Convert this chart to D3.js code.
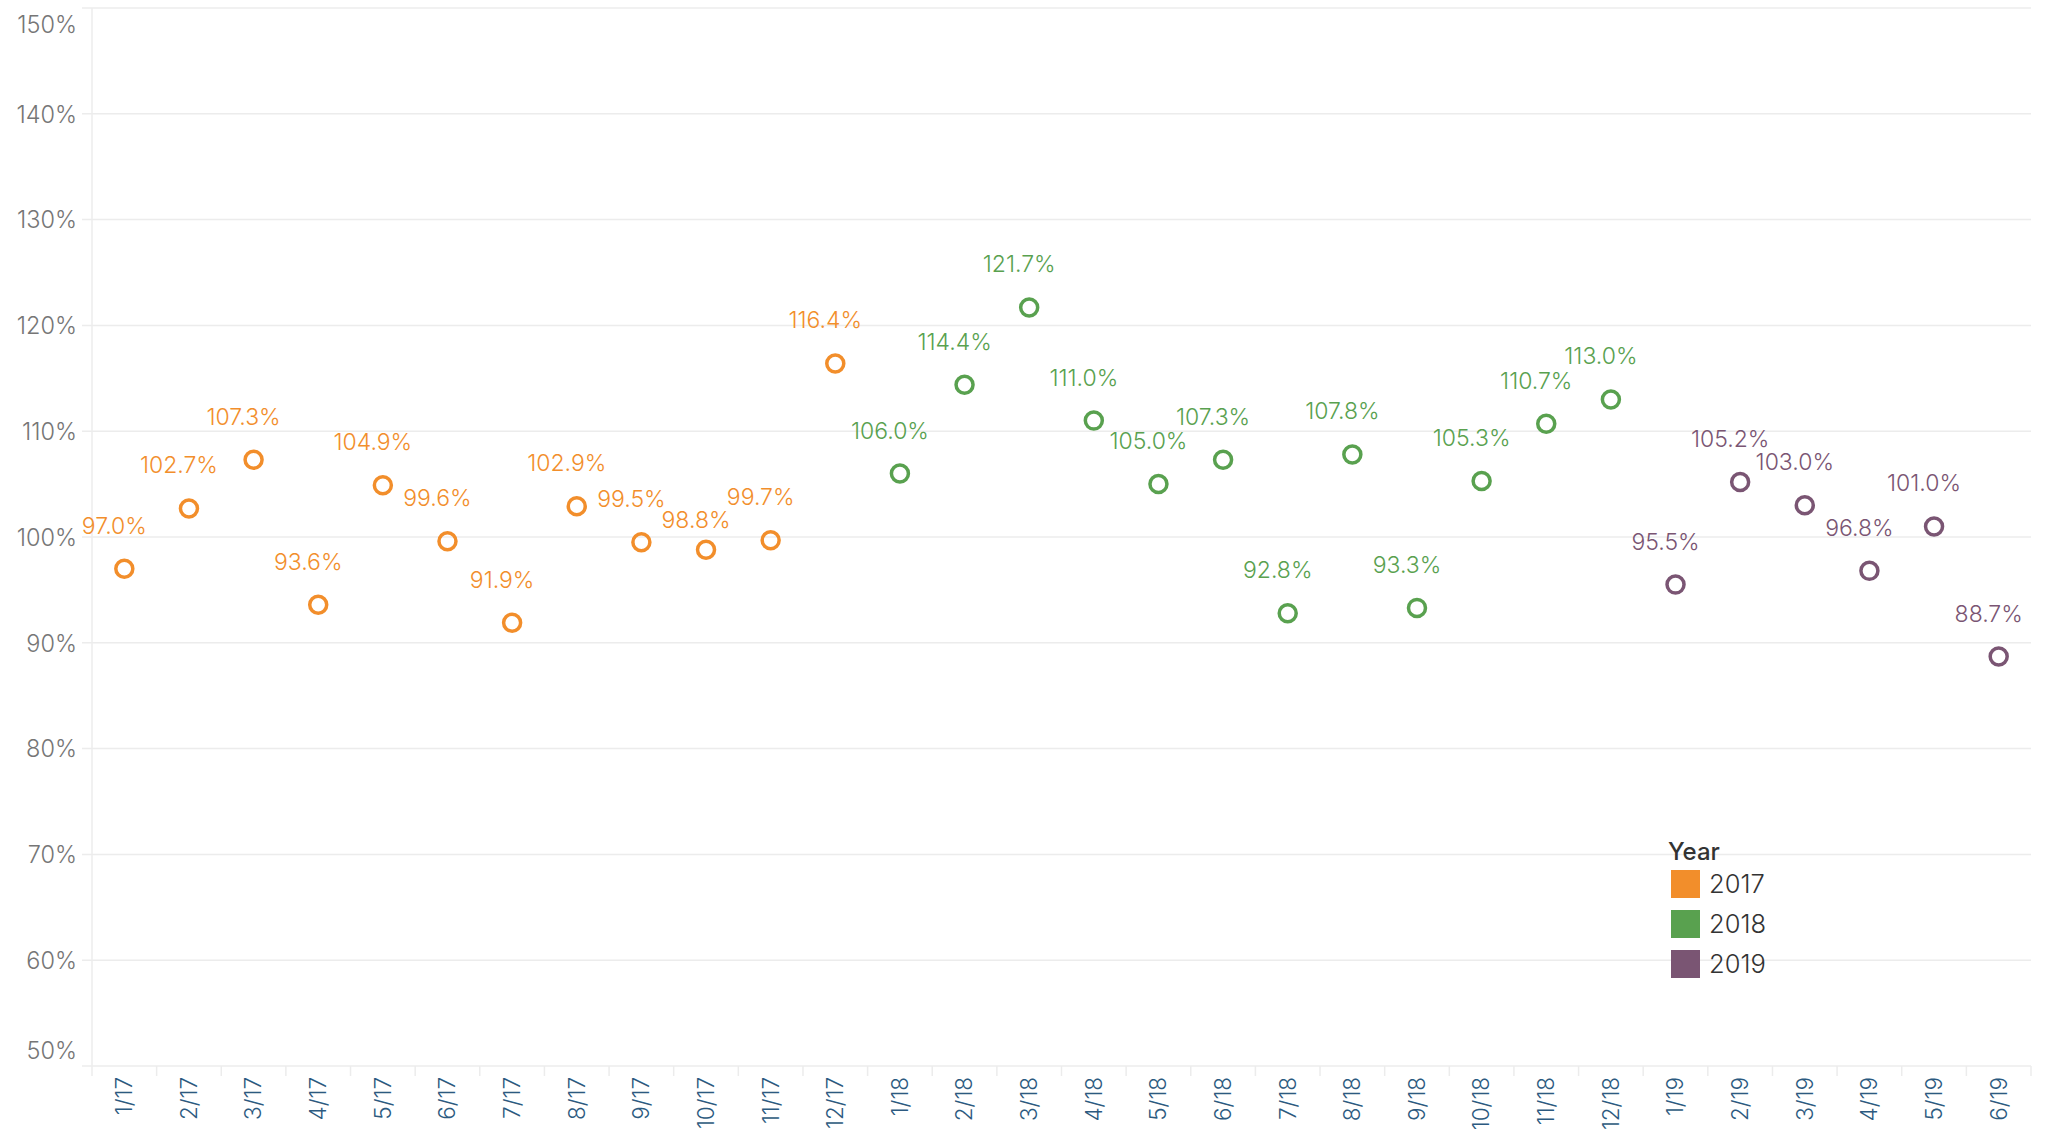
<!DOCTYPE html>
<html>
<head>
<meta charset="utf-8">
<script src="https://cdn.jsdelivr.net/npm/d3@7"></script>
<style>
  body { margin: 0; background: #fff; }
  text { font-family: Inter, 'Open Sans', sans-serif; }
</style>
</head>
<body>
<div id="chart"></div>
<script>
const months = ['1/17','2/17','3/17','4/17','5/17','6/17','7/17','8/17','9/17','10/17','11/17','12/17',
  '1/18','2/18','3/18','4/18','5/18','6/18','7/18','8/18','9/18','10/18','11/18','12/18',
  '1/19','2/19','3/19','4/19','5/19','6/19'];
const years = ['2017', '2018', '2019'];
const values2017 = [97.0, 102.7, 107.3, 93.6, 104.9, 99.6, 91.9, 102.9, 99.5, 98.8, 99.7, 116.4];
const values2018 = [106.0, 114.4, 121.7, 111.0, 105.0, 107.3, 92.8, 107.8, 93.3, 105.3, 110.7, 113.0];
const values2019 = [95.5, 105.2, 103.0, 96.8, 101.0, 88.7];
const yTicks = [50, 60, 70, 80, 90, 100, 110, 120, 130, 140, 150];

const data = [];
[values2017, values2018, values2019].forEach((vals, i) => {
  vals.forEach(v => data.push({ month: months[data.length], year: years[i], value: v }));
});

const W = 2050, H = 1132;
const margin = { top: 8, right: 19, bottom: 66, left: 92 };
const plotW = W - margin.left - margin.right;
const plotH = H - margin.top - margin.bottom;

const color = d3.scaleOrdinal().domain(years).range(['#f28e2b', '#59a14f', '#7a5573']);

const svg = d3.select('#chart').append('svg')
  .attr('width', W).attr('height', H);

const g = svg.append('g').attr('transform', `translate(${margin.left},${margin.top})`);

const x = d3.scaleBand().domain(months).range([0, plotW]);
const y = d3.scaleLinear().domain([50, 150]).range([plotH, 0]);

// grid lines
g.append('g').attr('class', 'grid')
  .selectAll('line').data(yTicks).join('line')
  .attr('x1', -10).attr('x2', plotW)
  .attr('y1', d => y(d)).attr('y2', d => y(d))
  .attr('stroke', '#ececec').attr('stroke-width', 1.5);

// left axis line
g.append('line')
  .attr('x1', 0).attr('x2', 0).attr('y1', 0).attr('y2', plotH + 10)
  .attr('stroke', '#ececec').attr('stroke-width', 1.5);

// y labels
const yAxis = g.append('g').attr('class', 'y-axis')
  .call(d3.axisLeft(y).tickValues(yTicks).tickFormat(d => d + '%').tickSize(0).tickPadding(15));
yAxis.select('.domain').remove();
yAxis.selectAll('text')
  .style('font-size', '23.5px').style('fill', '#767676').style('font-weight', 300)
  .attr('dy', d => d === 150 ? '1.05em' : d === 50 ? '-0.3em' : '0.35em');

// x axis separators
g.append('g').attr('class', 'x-sep')
  .selectAll('line').data(months.slice(1).concat(['end'])).join('line')
  .attr('x1', (d, i) => x.step() * (i + 1)).attr('x2', (d, i) => x.step() * (i + 1))
  .attr('y1', plotH).attr('y2', plotH + 10)
  .attr('stroke', '#ececec').attr('stroke-width', 1.5);

const xAxis = g.append('g').attr('class', 'x-axis')
  .attr('transform', `translate(0,${plotH})`)
  .call(d3.axisBottom(x).tickSize(0));
xAxis.select('.domain').remove();
xAxis.selectAll('text')
  .style('font-size', '22.5px').style('fill', '#2c5a80').style('font-weight', 300)
  .attr('text-anchor', 'end')
  .attr('transform', 'rotate(-90)')
  .attr('x', -11).attr('y', 0).attr('dy', '0.35em');

// points
g.append('g').selectAll('circle').data(data).join('circle')
  .attr('cx', d => x(d.month) + x.bandwidth() / 2)
  .attr('cy', d => y(d.value))
  .attr('r', 8.5)
  .attr('fill', 'none')
  .attr('stroke', d => color(d.year))
  .attr('stroke-width', 3.5);

// labels, nudged when they would run into the previous one
const labels = g.append('g').selectAll('text').data(data).join('text')
  .attr('x', d => x(d.month) + x.bandwidth() / 2 - 10)
  .attr('text-anchor', 'middle')
  .style('font-size', '23px').style('font-weight', 300)
  .style('fill', d => color(d.year))
  .text(d => d.value.toFixed(1) + '%');

const placed = [];
labels.each(function (d) {
  const w = this.getBBox().width;
  const lx = x(d.month) + x.bandwidth() / 2 - 10;
  let ly = y(d.value) - 35;
  for (const off of [35, 22, 48]) {
    const cand = y(d.value) - off;
    const hit = placed.some(p => Math.abs(p.x - lx) < (p.w + w) / 2 && Math.abs(p.y - cand) < 19);
    if (!hit) { ly = cand; break; }
  }
  placed.push({ x: lx, y: ly, w: w });
  d3.select(this).attr('y', ly);
});

// legend
const legend = svg.append('g').attr('transform', 'translate(1668,0)');
legend.append('text')
  .attr('x', 0).attr('y', 860)
  .style('font-size', '24px').style('fill', '#333').style('font-weight', 500)
  .text('Year');
const items = legend.selectAll('g.item').data(years).join('g')
  .attr('class', 'item')
  .attr('transform', (d, i) => `translate(3,${870 + i * 40})`);
items.append('rect').attr('width', 29).attr('height', 28).attr('fill', d => color(d));
items.append('text').attr('x', 38).attr('y', 14).attr('dy', '0.36em')
  .style('font-size', '25.5px').style('fill', '#333').style('font-weight', 300).text(d => d);
</script>
</body>
</html>
